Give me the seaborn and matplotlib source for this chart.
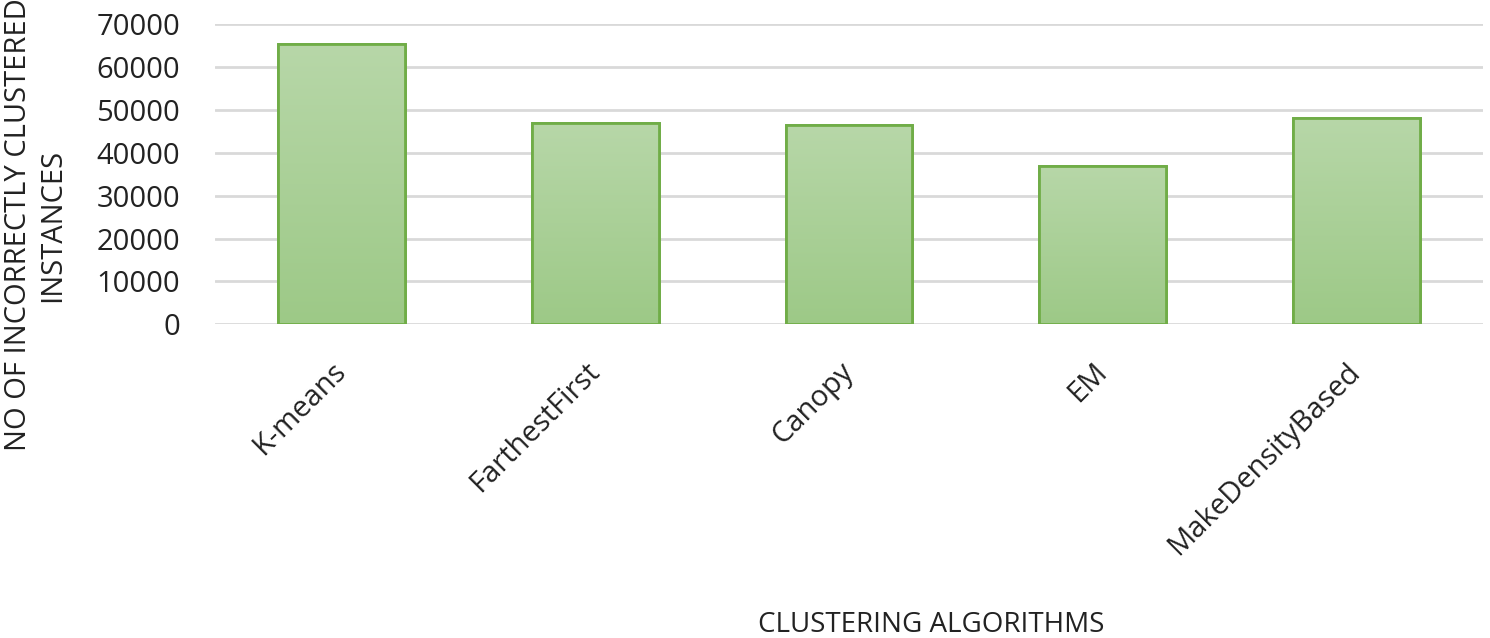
import numpy as np
import pandas as pd
import seaborn as sns
from matplotlib import pyplot as plt
from matplotlib.colors import LinearSegmentedColormap

algorithms = ['K-means', 'FarthestFirst', 'Canopy', 'EM', 'MakeDensityBased']
incorrect = [65300, 46900, 46400, 36900, 48100]
yticks = [0, 10000, 20000, 30000, 40000, 50000, 60000, 70000]

df = pd.DataFrame({'algorithm': algorithms, 'incorrect': incorrect})

sns.set_style('white')
plt.rcParams['font.family'] = ['Open Sans', 'DejaVu Sans']

fig = plt.figure(figsize=(14.9, 6.38), dpi=100)
ax = fig.add_axes([0.1443, 0.4917, 0.851, 0.4703])

sns.barplot(data=df, x='algorithm', y='incorrect', color='#a8cf94',
            width=0.5, edgecolor='#70ad47', linewidth=2, ax=ax, zorder=3)

# gradient fill clipped to each bar
grad = LinearSegmentedColormap.from_list('g', ['#9dc987', '#b7d7a8'])
for bar in ax.patches:
    x0, y0 = bar.get_x(), bar.get_y()
    w, h = bar.get_width(), bar.get_height()
    img = ax.imshow(np.linspace(0, 1, 100).reshape(-1, 1), cmap=grad,
                    extent=[x0, x0 + w, y0, y0 + h], origin='lower',
                    aspect='auto', zorder=3.5)
    img.set_clip_path(bar)
    edge = plt.Rectangle((x0, y0), w, h, fill=False, edgecolor='#70ad47',
                         linewidth=2, zorder=4)
    ax.add_patch(edge)

ax.set_xlim(-0.5, 4.5)
ax.set_ylim(0, 70000)
ax.set_yticks(yticks)
ax.set_yticklabels([str(v) for v in yticks], fontsize=21, color='#222222')
ax.yaxis.grid(True, color='#d9d9d9', linewidth=2, zorder=0)
ax.tick_params(axis='y', length=0, pad=25)
ax.tick_params(axis='x', length=0, pad=31)
sns.despine(ax=ax, left=True, bottom=True)

for lab in ax.get_xticklabels():
    lab.set_rotation(45)
    lab.set_ha('right')
    lab.set_va('center')
    lab.set_rotation_mode('anchor')
    lab.set_fontsize(21)
    lab.set_color('#222222')

ax.set_xlabel('CLUSTERING ALGORITHMS', fontsize=20, color='#222222')
ax.xaxis.set_label_coords(0.565, -0.955)
ax.set_ylabel('NO OF INCORRECTLY CLUSTERED\nINSTANCES', fontsize=21,
              color='#222222', linespacing=1.2)
ax.yaxis.set_label_coords(-0.117, 0.331)

fig.savefig('out.png', dpi=100)
